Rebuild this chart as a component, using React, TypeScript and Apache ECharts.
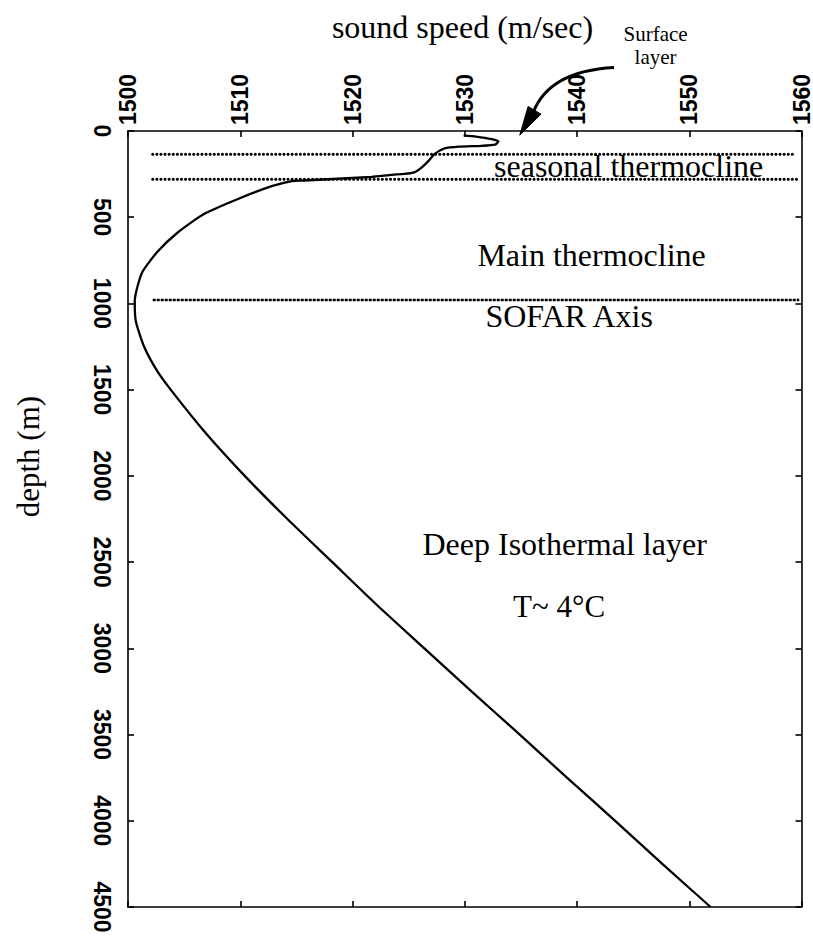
import React, { useEffect, useRef } from "react";
import * as echarts from "echarts";

// Axis ticks
const speedMin = 1500;
const speedMax = 1560;
const speedStep = 10;
const depthMin = 0;
const depthMax = 4500;
const depthStep = 500;

// Sound-speed profile (m/s vs depth m)
const profileSpeed = [
  1529.9, 1531.0, 1532.4, 1533.0, 1532.7, 1531.5, 1529.5, 1528.2, 1527.3, 1526.8,
  1526.2, 1525.5, 1524.6, 1523.5, 1521.7, 1515.7, 1514.6, 1512.8, 1509.8, 1506.8,
  1504.4, 1502.6, 1501.3, 1500.8, 1500.6, 1500.7, 1501.4, 1502.5, 1503.8, 1506.9,
  1510.4, 1514.2, 1518.2, 1522.2, 1526.4, 1530.6, 1534.9, 1539.1, 1543.4, 1547.6,
  1551.9,
];
const profileDepth = [
  25, 32, 47, 60, 79, 86, 91, 101, 134, 172,
  209, 240, 249, 254, 266, 287, 290, 320, 394, 480,
  590, 702, 815, 913, 988, 1104, 1245, 1381, 1500, 1750,
  2000, 2250, 2500, 2750, 3000, 3250, 3500, 3750, 4000, 4250,
  4500,
];

// Layer boundaries (depth, m) and their horizontal extent (m/s)
const seasonalTop = 135;
const seasonalBottom = 280;
const sofarAxisDepth = 980;
const boundarySpeedStart = 1502.2;
const boundarySpeedEnd = [1559.4, 1559.8, 1559.8];

// Annotation texts
const titleText = "sound speed (m/sec)";
const depthText = "depth (m)";
const surfaceText = "Surface\nlayer";
const layerTexts = [
  "seasonal thermocline",
  "Main thermocline",
  "SOFAR Axis",
  "Deep Isothermal layer",
  "T~ 4°C",
];

export default function App() {
  const ref = useRef<HTMLDivElement>(null);

  useEffect(() => {
    document.body.style.margin = "0";
    document.body.style.overflow = "hidden";
    const chart = echarts.init(ref.current!, null, { renderer: "svg" });

    const profileData = profileSpeed.map((s, i) => [s, profileDepth[i]]);
    const black = "#000000";
    const tickFont = "'Liberation Sans', Arial, sans-serif";
    const serif = "'Liberation Serif', 'Times New Roman', serif";

    const axisLine = { show: true, onZero: false, lineStyle: { color: black, width: 1.6 } };
    const axisTick = { show: true, inside: true, length: 6, lineStyle: { color: black, width: 1.6 } };
    const tickLabel = {
      rotate: -90,
      fontFamily: tickFont,
      fontWeight: "bold" as const,
      fontSize: 23,
      color: black,
      formatter: (v: number) => String(v),
    };

    const dotted = (w: number) => ({
      color: black,
      width: w,
      type: [0.1, 4] as number[],
      cap: "round" as const,
    });

    chart.setOption({
      animation: false,
      backgroundColor: "#fff",
      grid: { left: 128, top: 131, width: 677, height: 776, show: false },
      xAxis: [
        {
          type: "value",
          position: "top",
          min: speedMin,
          max: speedMax,
          interval: speedStep,
          axisLine,
          axisTick,
          axisLabel: { ...tickLabel, margin: 6 },
          splitLine: { show: false },
        },
        {
          type: "value",
          position: "bottom",
          min: speedMin,
          max: speedMax,
          interval: speedStep,
          axisLine,
          axisTick,
          axisLabel: { show: false },
          splitLine: { show: false },
        },
      ],
      yAxis: [
        {
          type: "value",
          position: "left",
          inverse: true,
          min: depthMin,
          max: depthMax,
          interval: depthStep,
          axisLine,
          axisTick,
          axisLabel: { ...tickLabel, margin: 15 },
          splitLine: { show: false },
        },
        {
          type: "value",
          position: "right",
          inverse: true,
          min: depthMin,
          max: depthMax,
          interval: depthStep,
          axisLine,
          axisTick,
          axisLabel: { show: false },
          splitLine: { show: false },
        },
      ],
      series: [
        {
          type: "line",
          name: "sound speed",
          data: profileData,
          showSymbol: false,
          smooth: 0.2,
          lineStyle: { color: black, width: 2.3 },
          z: 5,
        },
        {
          type: "line",
          data: [
            [boundarySpeedStart, seasonalTop],
            [boundarySpeedEnd[0], seasonalTop],
          ],
          showSymbol: false,
          lineStyle: dotted(3),
        },
        {
          type: "line",
          data: [
            [boundarySpeedStart, seasonalBottom],
            [boundarySpeedEnd[1], seasonalBottom],
          ],
          showSymbol: false,
          lineStyle: dotted(3),
        },
        {
          type: "line",
          data: [
            [boundarySpeedStart, sofarAxisDepth],
            [boundarySpeedEnd[2], sofarAxisDepth],
          ],
          showSymbol: false,
          lineStyle: { color: black, width: 2.4, type: [3, 1] as number[] },
        },
      ],
    });

    const px = (c: number, d: number) =>
      chart.convertToPixel({ seriesIndex: 0 }, [c, d]) as number[];

    const label = (
      text: string,
      c: number,
      d: number,
      size: number,
      rotation = 0,
      lineHeight?: number
    ) => {
      const [x, y] = px(c, d);
      return {
        type: "text",
        x,
        y,
        rotation,
        style: {
          text,
          font: `${size}px ${serif}`,
          fill: black,
          align: "center",
          verticalAlign: "middle",
          textAlign: "center",
          textVerticalAlign: "middle",
          lineHeight: lineHeight ?? Math.round(size * 1.2),
        },
        z: 10,
      };
    };

    // Arrow from "Surface layer" to the sea surface
    const [sx, sy] = px(1543.3, -368);
    const [cx, cy] = px(1537.5, -347);
    const [bx, by] = px(1536.1, -107);
    const [tx, ty] = px(1534.9, 24);
    const dx = tx - bx;
    const dy = ty - by;
    const len = Math.hypot(dx, dy);
    const nx = -dy / len;
    const ny = dx / len;
    const hw = 7.5;

    chart.setOption({
      graphic: [
        label(titleText, 1529.8, -605, 32),
        label(depthText, 1491.1, 1888, 31, Math.PI / 2),
        label(surfaceText, 1547.0, -495, 21, 0, 23),
        label(layerTexts[0], 1544.6, 204, 32),
        label(layerTexts[1], 1541.3, 718, 32),
        label(layerTexts[2], 1539.3, 1073, 32),
        label(layerTexts[3], 1538.9, 2396, 32),
        label(layerTexts[4], 1538.4, 2760, 31),
        {
          type: "bezierCurve",
          shape: { x1: sx, y1: sy, x2: bx, y2: by, cpx1: cx, cpy1: cy },
          style: { stroke: black, lineWidth: 3, fill: "none" },
          z: 10,
        },
        {
          type: "polygon",
          shape: {
            points: [
              [bx + nx * hw - dx * 0.1, by + ny * hw - dy * 0.1],
              [tx, ty],
              [bx - nx * hw - dx * 0.1, by - ny * hw - dy * 0.1],
            ],
          },
          style: { fill: black, stroke: black, lineWidth: 1 },
          z: 10,
        },
      ],
    });

    return () => chart.dispose();
  }, []);

  return <div ref={ref} style={{ width: 813, height: 945 }} />;
}
